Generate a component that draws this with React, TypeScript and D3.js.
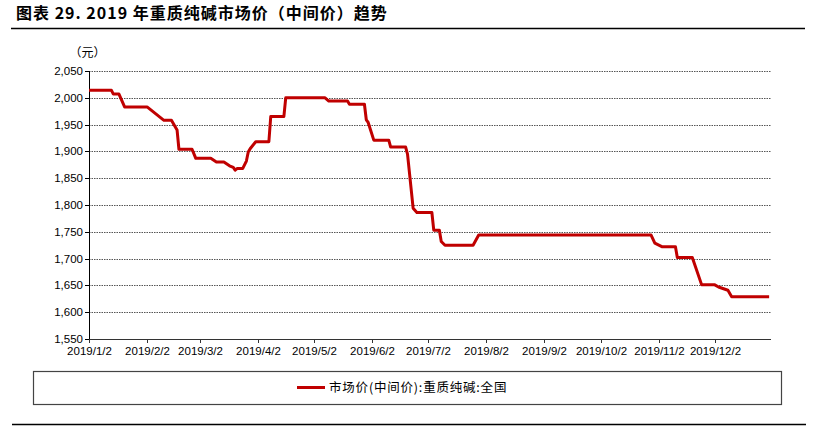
import React from "react";
import * as d3 from "d3";

const title = "图表 29. 2019 年重质纯碱市场价（中间价）趋势";
const unitLabel = "（元）";
const legendLabel = "市场价(中间价):重质纯碱:全国";

const dates: string[] = [
  "2019-01-02", "2019-01-14", "2019-01-15", "2019-01-18", "2019-01-21", "2019-02-02",
  "2019-02-11", "2019-02-15", "2019-02-18", "2019-02-19", "2019-02-26", "2019-02-28",
  "2019-03-08", "2019-03-11", "2019-03-15", "2019-03-18", "2019-03-20", "2019-03-21",
  "2019-03-22", "2019-03-25", "2019-03-27", "2019-03-28", "2019-03-29", "2019-04-01",
  "2019-04-08", "2019-04-09", "2019-04-16", "2019-04-17", "2019-05-08", "2019-05-10",
  "2019-05-20", "2019-05-21", "2019-05-29", "2019-05-30", "2019-05-31", "2019-06-03",
  "2019-06-11", "2019-06-12", "2019-06-20", "2019-06-21", "2019-06-24", "2019-06-26",
  "2019-07-04", "2019-07-05", "2019-07-08", "2019-07-09", "2019-07-11", "2019-07-26",
  "2019-07-29", "2019-10-29", "2019-10-31", "2019-11-04", "2019-11-11", "2019-11-12",
  "2019-11-20", "2019-11-25", "2019-12-02", "2019-12-04", "2019-12-09", "2019-12-11",
  "2019-12-31",
];
const prices: number[] = [
  2014, 2014, 2007, 2007, 1983, 1983,
  1958, 1958, 1940, 1904, 1904, 1887,
  1887, 1880, 1880, 1873, 1870, 1865,
  1868, 1868, 1882, 1899, 1905, 1918,
  1918, 1965, 1965, 2000, 2000, 1994,
  1994, 1988, 1988, 1959, 1954, 1921,
  1921, 1908, 1908, 1895, 1794, 1786,
  1786, 1753, 1753, 1732, 1725, 1725,
  1744, 1744, 1729, 1722, 1722, 1702,
  1702, 1651, 1651, 1647, 1641, 1629,
  1629,
];
const yTicks: number[] = [1550, 1600, 1650, 1700, 1750, 1800, 1850, 1900, 1950, 2000, 2050];
const xTickDates: string[] = [
  "2019-01-02", "2019-02-02", "2019-03-02", "2019-04-02", "2019-05-02", "2019-06-02",
  "2019-07-02", "2019-08-02", "2019-09-02", "2019-10-02", "2019-11-02", "2019-12-02",
];
const xTickLabels: string[] = [
  "2019/1/2", "2019/2/2", "2019/3/2", "2019/4/2", "2019/5/2", "2019/6/2",
  "2019/7/2", "2019/8/2", "2019/9/2", "2019/10/2", "2019/11/2", "2019/12/2",
];

const W = 815;
const H = 428;
const left = 89;
const right = 771;
const top = 71;
const bottom = 339;

export default function App() {
  const parse = (s: string) => new Date(s + "T00:00:00Z");
  const x = d3.scaleUtc().domain([parse("2019-01-02"), parse("2020-01-01")]).range([left, right]);
  const y = d3.scaleLinear().domain([1550, 2050]).range([bottom, top]);
  const pts: [Date, number][] = dates.map((d, i) => [parse(d), prices[i]]);
  const line = d3
    .line<[Date, number]>()
    .x((d) => x(d[0]))
    .y((d) => y(d[1]));
  const fmt = d3.format(",");
  const latin = "Arial, 'Liberation Sans', sans-serif";
  const cjk = "'Noto Sans CJK SC', sans-serif";

  return (
    <svg
      width={W}
      height={H}
      viewBox={`0 0 ${W} ${H}`}
      style={{ position: "absolute", left: 0, top: 0, background: "#fff" }}
    >
      <rect x={0} y={0} width={W} height={H} fill="#fff" />
      {/* title */}
      <text x={16} y={19} fontFamily={cjk} fontWeight={700} fontSize={16} letterSpacing={1} fill="#000">
        {title}
      </text>
      <line x1={11} x2={805} y1={28.5} y2={28.5} stroke="#000" strokeWidth={1.5} />

      {/* unit */}
      <text x={87.5} y={57} textAnchor="middle" fontFamily={cjk} fontSize={12} fill="#000">
        {unitLabel}
      </text>

      {/* gridlines */}
      {yTicks
        .filter((t) => t !== 1550)
        .map((t) => (
          <line
            key={"g" + t}
            x1={left}
            x2={right}
            y1={Math.round(y(t)) + 0.5}
            y2={Math.round(y(t)) + 0.5}
            stroke="#555"
            strokeWidth={1}
            strokeDasharray="1.5,1"
          />
        ))}

      {/* y axis */}
      <line x1={left + 0.5} x2={left + 0.5} y1={top} y2={bottom + 0.5} stroke="#000" strokeWidth={1} />
      {yTicks.map((t) => (
        <g key={"yt" + t}>
          <line x1={left - 4} x2={left} y1={Math.round(y(t)) + 0.5} y2={Math.round(y(t)) + 0.5} stroke="#000" />
          <text
            x={left - 6}
            y={y(t)}
            dy="0.35em"
            textAnchor="end"
            fontFamily={latin}
            fontSize={11.5}
            fill="#000"
          >
            {fmt(t)}
          </text>
        </g>
      ))}

      {/* x axis */}
      <line x1={left} x2={right} y1={bottom + 0.5} y2={bottom + 0.5} stroke="#333" strokeWidth={1} />
      {xTickDates.map((d, i) => {
        const xx = Math.round(x(parse(d))) + 0.5;
        return (
          <g key={"xt" + d}>
            <line x1={xx} x2={xx} y1={bottom} y2={bottom + 4} stroke="#333" />
            <text x={xx} y={355} textAnchor="middle" fontFamily={latin} fontSize={11.5} fill="#000">
              {xTickLabels[i]}
            </text>
          </g>
        );
      })}

      {/* series */}
      <path d={line(pts) || ""} fill="none" stroke="#C00000" strokeWidth={3} strokeLinejoin="round" />

      {/* legend */}
      <rect x={33.5} y={371.5} width={748} height={33} fill="#fff" stroke="#444" strokeWidth={1.2} />
      <line x1={297} x2={325} y1={387.5} y2={387.5} stroke="#C00000" strokeWidth={3} />
      <text x={329} y={392} fontFamily={cjk} fontSize={12.5} letterSpacing={0.8} fill="#000">
        {legendLabel}
      </text>

      {/* bottom rule */}
      <line x1={12} x2={806} y1={424.5} y2={424.5} stroke="#000" strokeWidth={1.5} />
    </svg>
  );
}
